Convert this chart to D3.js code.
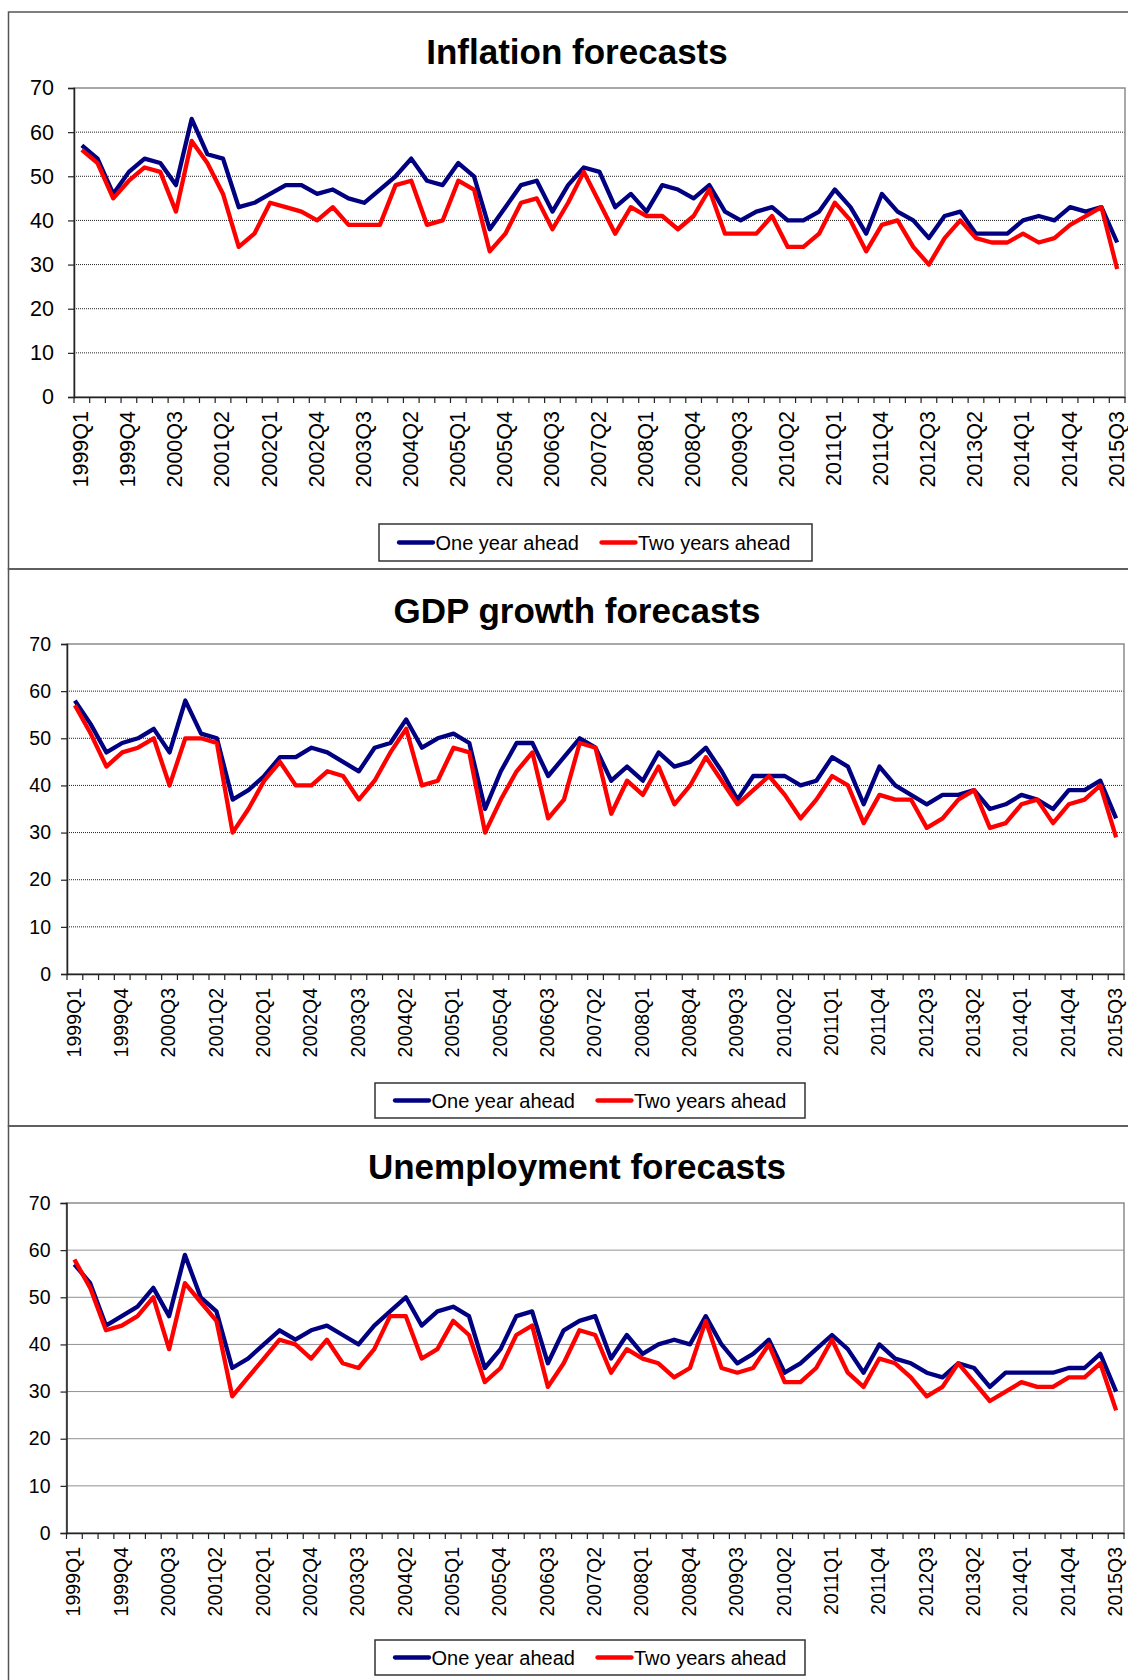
<!DOCTYPE html>
<html>
<head>
<meta charset="utf-8">
<script src="https://cdn.jsdelivr.net/npm/d3@7"></script>
<style>
  body { margin: 0; background: #fff; }
  svg { display: block; font-family: "Liberation Sans", Arial, sans-serif; }
</style>
</head>
<body>
<div id="chart"></div>
<script>
// quarters on the category axis
const quarters = [
  "1999Q1","1999Q2","1999Q3","1999Q4","2000Q1","2000Q2","2000Q3","2000Q4",
  "2001Q1","2001Q2","2001Q3","2001Q4","2002Q1","2002Q2","2002Q3","2002Q4",
  "2003Q1","2003Q2","2003Q3","2003Q4","2004Q1","2004Q2","2004Q3","2004Q4",
  "2005Q1","2005Q2","2005Q3","2005Q4","2006Q1","2006Q2","2006Q3","2006Q4",
  "2007Q1","2007Q2","2007Q3","2007Q4","2008Q1","2008Q2","2008Q3","2008Q4",
  "2009Q1","2009Q2","2009Q3","2009Q4","2010Q1","2010Q2","2010Q3","2010Q4",
  "2011Q1","2011Q2","2011Q3","2011Q4","2012Q1","2012Q2","2012Q3","2012Q4",
  "2013Q1","2013Q2","2013Q3","2013Q4","2014Q1","2014Q2","2014Q3","2014Q4",
  "2015Q1","2015Q2","2015Q3"
];
// every third quarter gets a label
const quarterLabels = [
  "1999Q1","1999Q4","2000Q3","2001Q2","2002Q1","2002Q4","2003Q3","2004Q2",
  "2005Q1","2005Q4","2006Q3","2007Q2","2008Q1","2008Q4","2009Q3","2010Q2",
  "2011Q1","2011Q4","2012Q3","2013Q2","2014Q1","2014Q4","2015Q3"
];
const yTicks = [0, 10, 20, 30, 40, 50, 60, 70];
const seriesNames = ["One year ahead", "Two years ahead"];
const titles = ["Inflation forecasts", "GDP growth forecasts", "Unemployment forecasts"];

const inflationOneYear = [
  57,54,46,51,54,53,48,63,55,54, 43,44,46,48,48,46,47,45,44,47,
  50,54,49,48,53,50,38,43,48,49, 42,48,52,51,43,46,42,48,47,45,
  48,42,40,42,43,40,40,42,47,43, 37,46,42,40,36,41,42,37,37,37,
  40,41,40,43,42,43,35
];
const inflationTwoYears = [
  56,53,45,49,52,51,42,58,53,46, 34,37,44,43,42,40,43,39,39,39,
  48,49,39,40,49,47,33,37,44,45, 38,44,51,44,37,43,41,41,38,41,
  47,37,37,37,41,34,34,37,44,40, 33,39,40,34,30,36,40,36,35,35,
  37,35,36,39,41,43,29
];
const gdpOneYear = [
  58,53,47,49,50,52,47,58,51,50, 37,39,42,46,46,48,47,45,43,48,
  49,54,48,50,51,49,35,43,49,49, 42,46,50,48,41,44,41,47,44,45,
  48,43,37,42,42,42,40,41,46,44, 36,44,40,38,36,38,38,39,35,36,
  38,37,35,39,39,41,33
];
const gdpTwoYears = [
  57,51,44,47,48,50,40,50,50,49, 30,35,41,45,40,40,43,42,37,41,
  47,52,40,41,48,47,30,37,43,47, 33,37,49,48,34,41,38,44,36,40,
  46,41,36,39,42,38,33,37,42,40, 32,38,37,37,31,33,37,39,31,32,
  36,37,32,36,37,40,29
];
const unemploymentOneYear = [
  57,53,44,46,48,52,46,59,50,47, 35,37,40,43,41,43,44,42,40,44,
  47,50,44,47,48,46,35,39,46,47, 36,43,45,46,37,42,38,40,41,40,
  46,40,36,38,41,34,36,39,42,39, 34,40,37,36,34,33,36,35,31,34,
  34,34,34,35,35,38,30
];
const unemploymentTwoYears = [
  58,52,43,44,46,50,39,53,49,45, 29,33,37,41,40,37,41,36,35,39,
  46,46,37,39,45,42,32,35,42,44, 31,36,43,42,34,39,37,36,33,35,
  45,35,34,35,40,32,32,35,41,34, 31,37,36,33,29,31,36,32,28,30,
  32,31,31,33,33,36,26
];

const colors = ["#000080", "#ff0000"];

// panel geometry
const panels = [
  { title: titles[0], series: [inflationOneYear, inflationTwoYears],
    top: 12, left: 74, right: 1125, plotTop: 88, plotBottom: 397,
    titleY: 64, font: 21.5, yPad: 14, legend: { x: 379, y: 524, w: 433, h: 37 } },
  { title: titles[1], series: [gdpOneYear, gdpTwoYears],
    top: 569, left: 67, right: 1124, plotTop: 644, plotBottom: 974,
    titleY: 623, font: 19.5, yPad: 10, legend: { x: 375, y: 1083, w: 430, h: 35 } },
  { title: titles[2], series: [unemploymentOneYear, unemploymentTwoYears],
    top: 1126, left: 66.5, right: 1124, plotTop: 1203, plotBottom: 1533,
    titleY: 1179, font: 19.5, yPad: 10, legend: { x: 375, y: 1640, w: 430, h: 35 } }
];

const W = 1128, H = 1680;

const svg = d3.select("#chart")
  .append("svg")
  .attr("width", W)
  .attr("height", H);

panels.forEach(p => drawPanel(p));

function drawPanel(p) {
  const g = svg.append("g");

  // panel frame (right/bottom edges run past the picture)
  g.append("rect")
    .attr("x", 8.5)
    .attr("y", p.top)
    .attr("width", 1160)
    .attr("height", 557)
    .attr("fill", "none")
    .attr("stroke", "#555")
    .attr("stroke-width", 1.5);

  g.append("text")
    .attr("x", 577)
    .attr("y", p.titleY)
    .attr("text-anchor", "middle")
    .style("font-size", "35px")
    .style("font-weight", "bold")
    .text(p.title);

  const x = d3.scaleBand()
    .domain(quarters)
    .range([p.left, p.right])
    .padding(0);

  const y = d3.scaleLinear()
    .domain([0, 70])
    .range([p.plotBottom, p.plotTop]);

  // gridlines
  g.append("g")
    .selectAll("line")
    .data(yTicks.filter(d => d > 0 && d < 70))
    .join("line")
    .attr("x1", p.left)
    .attr("x2", p.right)
    .attr("y1", d => y(d))
    .attr("y2", d => y(d))
    .attr("stroke", "#222")
    .attr("stroke-width", 1)
    .attr("stroke-dasharray", "1,1");

  // plot area border
  g.append("rect")
    .attr("x", p.left)
    .attr("y", y(70))
    .attr("width", p.right - p.left)
    .attr("height", y(0) - y(70))
    .attr("fill", "none")
    .attr("stroke", "#8c8c8c")
    .attr("stroke-width", 1.5);

  // y axis
  const yAxis = d3.axisLeft(y)
    .tickValues(yTicks)
    .tickSize(6)
    .tickPadding(p.yPad);

  const yg = g.append("g")
    .attr("transform", `translate(${p.left},0)`)
    .call(yAxis);
  yg.select(".domain").attr("stroke", "#222").attr("stroke-width", 1.5);
  yg.selectAll(".tick line").attr("stroke", "#222").attr("stroke-width", 1.2);
  yg.selectAll("text")
    .attr("fill", "#000")
    .style("font-size", p.font + "px")
    .style("font-family", "'Liberation Sans', Arial, sans-serif");

  // x axis: labels on every third quarter
  const xAxis = d3.axisBottom(x)
    .tickValues(quarterLabels)
    .tickSize(0);

  const xg = g.append("g")
    .attr("transform", `translate(0,${y(0)})`)
    .call(xAxis);
  xg.select(".domain").attr("stroke", "#222").attr("stroke-width", 1.5);
  xg.selectAll("text")
    .attr("transform", "rotate(-90)")
    .attr("x", -14)
    .attr("y", 0)
    .attr("dy", "0.3em")
    .attr("fill", "#000")
    .style("text-anchor", "end")
    .style("font-size", p.font + "px")
    .style("font-family", "'Liberation Sans', Arial, sans-serif");

  // tick marks between categories
  g.append("g")
    .selectAll("line")
    .data(d3.range(quarters.length + 1))
    .join("line")
    .attr("x1", i => p.left + i * x.step())
    .attr("x2", i => p.left + i * x.step())
    .attr("y1", y(0))
    .attr("y2", y(0) + 6)
    .attr("stroke", "#222")
    .attr("stroke-width", 1.2);

  // lines
  const line = d3.line()
    .x((d, i) => x(quarters[i]) + x.bandwidth() / 2)
    .y(d => y(d));

  p.series.forEach((s, k) => {
    g.append("path")
      .datum(s)
      .attr("d", line)
      .attr("fill", "none")
      .attr("stroke", colors[k])
      .attr("stroke-width", 4.3)
      .attr("stroke-linejoin", "round");
  });

  // legend
  const L = p.legend;
  const lg = g.append("g").attr("transform", `translate(${L.x},${L.y})`);
  lg.append("rect")
    .attr("width", L.w)
    .attr("height", L.h)
    .attr("fill", "#fff")
    .attr("stroke", "#333")
    .attr("stroke-width", 1.5);

  const offsets = [20, 222.5];
  seriesNames.forEach((name, k) => {
    lg.append("line")
      .attr("x1", offsets[k])
      .attr("x2", offsets[k] + 34)
      .attr("y1", L.h / 2)
      .attr("y2", L.h / 2)
      .attr("stroke", colors[k])
      .attr("stroke-width", 4.3)
      .attr("stroke-linecap", "round");
    lg.append("text")
      .attr("x", offsets[k] + 36.5)
      .attr("y", L.h / 2 + 7)
      .style("font-size", "20px")
      .text(name);
  });
}
</script>
</body>
</html>
